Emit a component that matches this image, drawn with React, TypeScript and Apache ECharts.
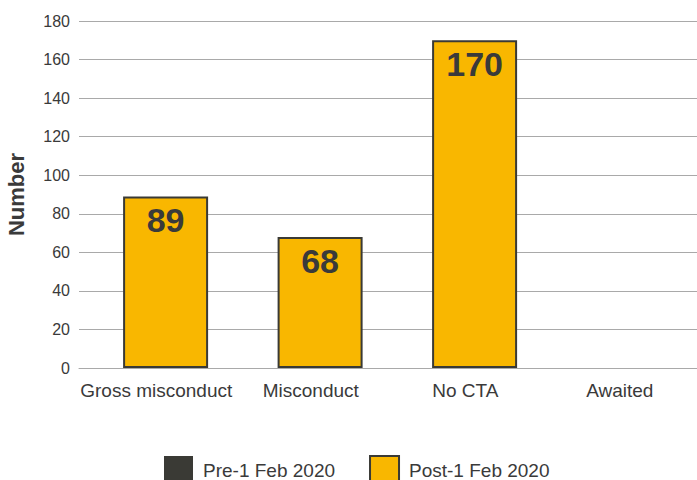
import React, { useEffect, useRef } from "react";
import * as echarts from "echarts";

const categories = ["Gross misconduct", "Misconduct", "No CTA", "Awaited"];
const preValues: (number | null)[] = [null, null, null, null];
const postValues: (number | null)[] = [89, 68, 170, null];
const yTicks = { min: 0, max: 180, interval: 20 };

const FONT = "'Liberation Sans', Arial, Helvetica, sans-serif";
const TEXT = "#3a3a3a";
const GRID = "#a9a9a9";
const YELLOW = "#F9B700";
const DARK = "#3a3a35";

export default function App() {
  const ref = useRef<HTMLDivElement>(null);

  useEffect(() => {
    if (!ref.current) return;
    const chart = echarts.init(ref.current, undefined, { renderer: "svg" });
    chart.setOption({
      animation: false,
      textStyle: { fontFamily: FONT },
      grid: {
        left: 79,
        right: 0,
        top: 21,
        bottom: 112,
        containLabel: false,
        outerBoundsMode: "none",
      },
      legend: {
        top: 455,
        left: 164,
        padding: 0,
        icon: "rect",
        itemWidth: 29,
        itemHeight: 29,
        itemGap: 34,
        textStyle: { fontSize: 19, color: TEXT, fontFamily: FONT, padding: [0, 0, 0, 5] },
        data: [
          { name: "Pre-1 Feb 2020", itemStyle: { color: DARK, borderWidth: 0 } },
          { name: "Post-1 Feb 2020", itemStyle: { color: YELLOW, borderColor: DARK, borderWidth: 2 } },
        ],
      },
      xAxis: {
        type: "category",
        data: categories,
        axisLine: { show: true, lineStyle: { color: GRID, width: 1 } },
        axisTick: { show: false },
        axisLabel: { color: TEXT, fontSize: 19, margin: 13, interval: 0, fontFamily: FONT },
      },
      yAxis: {
        type: "value",
        min: yTicks.min,
        max: yTicks.max,
        interval: yTicks.interval,
        name: "Number",
        nameLocation: "middle",
        nameGap: 52,
        nameTextStyle: { fontSize: 22, fontWeight: "bold", color: TEXT, fontFamily: FONT },
        axisLine: { show: false },
        axisTick: { show: false },
        axisLabel: { color: TEXT, fontSize: 16, margin: 9, fontFamily: FONT },
        splitLine: { lineStyle: { color: GRID, width: 1 } },
      },
      series: [
        {
          name: "Pre-1 Feb 2020",
          type: "bar",
          data: preValues,
          barWidth: 85,
          barGap: "-78%",
          itemStyle: { color: DARK },
        },
        {
          name: "Post-1 Feb 2020",
          type: "bar",
          data: postValues,
          barWidth: 85,
          itemStyle: { color: YELLOW, borderColor: DARK, borderWidth: 2 },
          label: {
            show: true,
            position: "insideTop",
            distance: 7,
            fontSize: 34,
            fontWeight: "bold",
            color: TEXT,
            fontFamily: FONT,
          },
        },
      ],
    });
    return () => chart.dispose();
  }, []);

  return (
    <div
      ref={ref}
      style={{ position: "fixed", left: 0, top: 0, width: 697, height: 480, background: "#fff" }}
    />
  );
}
